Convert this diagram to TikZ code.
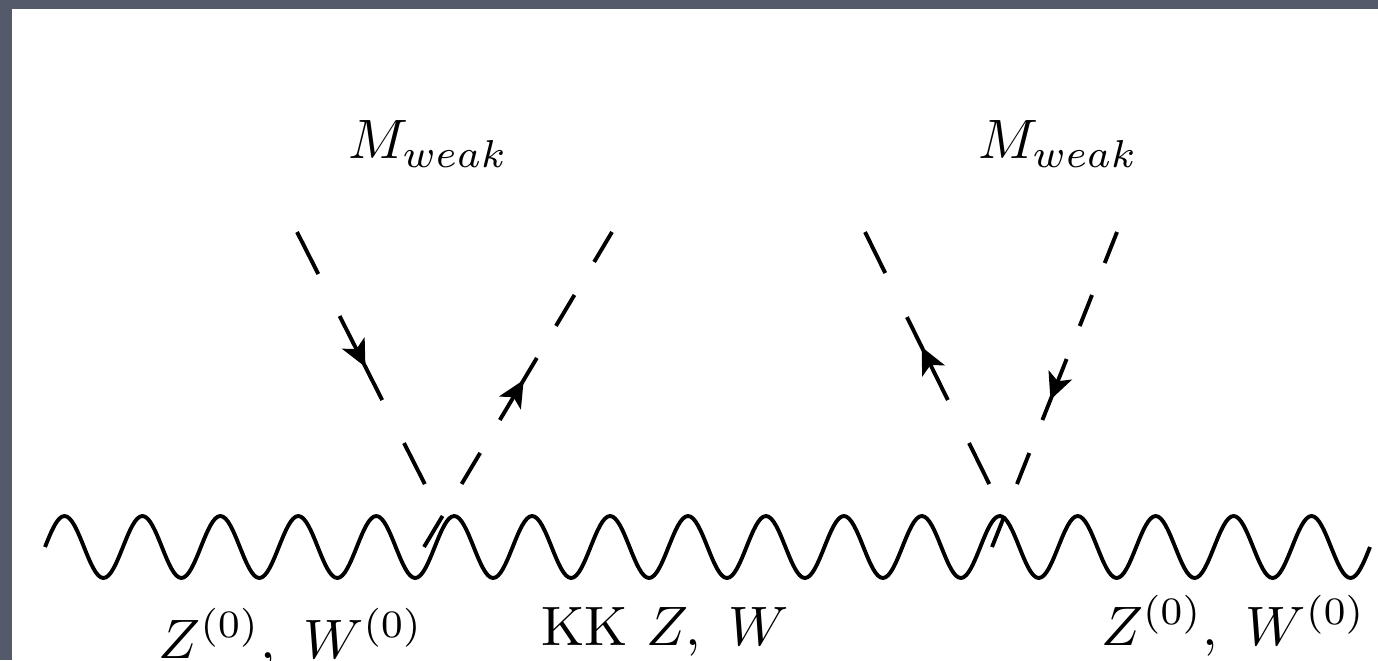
\documentclass[tikz,border=0pt]{standalone}
\usepackage{tikz}
\usetikzlibrary{arrows.meta, decorations.markings}
\definecolor{slideGray}{HTML}{545A6A}

\begin{document}
\begin{tikzpicture}[x=0.18pt, y=-0.18pt,
  boson/.style={line width=0.7pt, line join=round},
  scalar/.style={line width=0.7pt},
  fwd/.style={postaction={decorate, decoration={markings,
    mark=at position #1 with {\arrow[solid]{Stealth[length=4.8pt, width=4.5pt, inset=1.2pt]}}}}},
  bwd/.style={postaction={decorate, decoration={markings,
    mark=at position #1 with {\arrowreversed[solid]{Stealth[length=4.8pt, width=4.5pt, inset=1.2pt]}}}}},
  lbl/.style={anchor=base, inner sep=0pt}]
% slide frame
\useasboundingbox (0,0) rectangle (1378,660);
\fill[slideGray] (0,0) rectangle (1378,660);
\fill[white] (12,9) rectangle (1378,660);

% ends of the Higgs lines
\coordinate (t1) at (297,232);
\coordinate (t2) at (612,232);
\coordinate (t3) at (865,232);
\coordinate (t4) at (1117,232);
\coordinate (v1) at (441,516);
\coordinate (w1) at (424,547);
\coordinate (v2) at (1005,516);
\coordinate (w2) at (992,547);
\coordinate (g0) at (45,547);

% gauge boson line, 17 periods
\draw[boson] (g0) \foreach \k in {1,...,17}{
  sin ++(19.485,-31) cos ++(19.485,31) sin ++(19.485,31) cos ++(19.485,-31) };

% Higgs insertions
\draw[scalar, dash pattern=on 8.48pt off 8.48pt on 16.96pt off 8.68pt on 8.28pt off 8pt, fwd=0.4755] (t1) -- (v1);
\draw[scalar, dash pattern=on 6.28pt off 6.91pt on 6.5pt off 6.71pt on 13pt off 6.91pt on 6.5pt off 6.71pt on 6.5pt off 8pt, bwd=0.470] (t2) -- (w1);
\draw[scalar, dash pattern=on 8.23pt off 8.84pt on 16.65pt off 8.62pt on 8.23pt off 8pt, bwd=0.405] (t3) -- (v2);
\draw[scalar, dash pattern=on 6.01pt off 6.19pt on 6.01pt off 6.39pt on 11.81pt off 6.39pt on 6.01pt off 6.19pt on 6.01pt off 8pt, fwd=0.533] (t4) -- (w2);

% labels
\node[lbl] (mw1) at (428.5,159) {$M_{weak}$};
\node[lbl] (mw2) at (1058.5,159) {$M_{weak}$};
\node[lbl] (zl) at (291,658) {$Z^{(0)},\ W^{(0)}$};
\node[lbl] (kk) at (665,645) {KK $Z,\ W$};
\node[lbl] (zr) at (1233.5,645) {$Z^{(0)},\ W^{(0)}$};
\end{tikzpicture}
\end{document}
